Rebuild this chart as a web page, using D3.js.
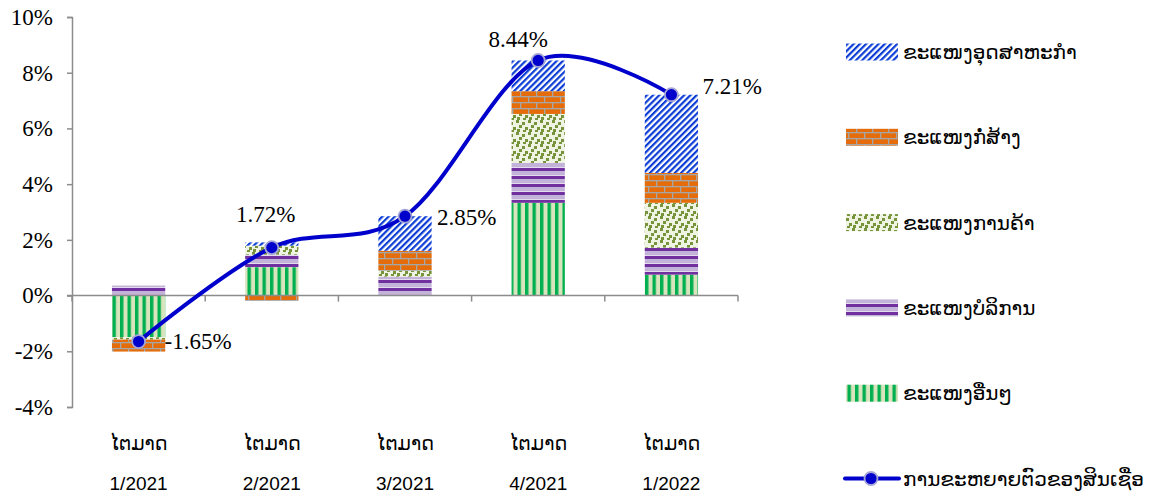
<!DOCTYPE html>
<html>
<head>
<meta charset="utf-8">
<script src="https://cdn.jsdelivr.net/npm/d3@7"></script>
<style>
  html, body { margin: 0; padding: 0; background: #fff; }
  svg { display: block; }
</style>
</head>
<body>
<svg id="chart" width="1155" height="495"></svg>
<script>
// ---------- DATA ----------
const periods = ["1/2021", "2/2021", "3/2021", "4/2021", "1/2022"];
const quarterWord = "ໄຕມາດ";
const seriesNames = ["ຂະແໜງອື່ນໆ", "ຂະແໜງບໍລິການ", "ຂະແໜງການຄ້າ", "ຂະແໜງກໍ່ສ້າງ", "ຂະແໜງອຸດສາຫະກຳ"];
const others       = [-1.50, 1.02, 0.00, 3.33, 0.75];
const services     = [ 0.36, 0.45, 0.68, 1.43, 0.97];
const trade        = [-0.08, 0.32, 0.21, 1.76, 1.61];
const construction = [-0.43, -0.19, 0.72, 0.82, 1.07];
const industry     = [ 0.00, 0.12, 1.24, 1.10, 2.81];
const creditGrowth = [-1.65, 1.72, 2.85, 8.44, 7.21];
const lineName = "ການຂະຫຍາຍຕົວຂອງສິນເຊື່ອ";
const yTicks = [-4, -2, 0, 2, 4, 6, 8, 10];

// ---------- LAYOUT ----------
const svg = d3.select("#chart");
const plot = { left: 72, right: 738, top: 17, bottom: 407 };
const axisColor = "#8c8c8c";
const SERIF = '"Liberation Serif"';
const LAO = '"DejaVu Sans"';
const SANS = '"Liberation Sans"';

const x = d3.scaleBand().domain(periods).range([plot.left, plot.right]).paddingInner(0.6).paddingOuter(0.3);
const y = d3.scaleLinear().domain([-4, 10]).range([plot.bottom, plot.top]);

// ---------- PATTERNS ----------
const defs = svg.append("defs");
const patIds = ["pOthers", "pServices", "pTrade", "pConstruction", "pIndustry"];

{
  const p = defs.append("pattern").attr("id", "pOthers").attr("patternUnits", "userSpaceOnUse")
    .attr("width", 7.5).attr("height", 10);
  p.append("rect").attr("width", 7.5).attr("height", 10).attr("fill", "#d8e4bc");
  p.append("rect").attr("x", 0).attr("width", 3.4).attr("height", 10).attr("fill", "#00b050");
}
{
  const p = defs.append("pattern").attr("id", "pServices").attr("patternUnits", "userSpaceOnUse")
    .attr("width", 10).attr("height", 8);
  p.append("rect").attr("width", 10).attr("height", 8).attr("fill", "#e4dcee");
  p.append("rect").attr("y", 3).attr("width", 10).attr("height", 4).attr("fill", "#c3b3d8");
  p.append("rect").attr("y", 0).attr("width", 10).attr("height", 3).attr("fill", "#7030a0");
}
{
  const p = defs.append("pattern").attr("id", "pTrade").attr("patternUnits", "userSpaceOnUse")
    .attr("width", 12).attr("height", 12);
  p.append("rect").attr("width", 12).attr("height", 12).attr("fill", "#eef3e2");
  [[0,0],[6,2],[3,5],[9,7],[1,9],[7,10]].forEach(([a,b]) =>
    p.append("rect").attr("x", a).attr("y", b).attr("width", 3).attr("height", 3).attr("fill", "#77933c"));
}
{
  const p = defs.append("pattern").attr("id", "pConstruction").attr("patternUnits", "userSpaceOnUse")
    .attr("width", 16).attr("height", 12);
  p.append("rect").attr("width", 16).attr("height", 12).attr("fill", "#e46c0a");
  p.append("rect").attr("y", 0).attr("width", 16).attr("height", 1.3).attr("fill", "#a6a6a6");
  p.append("rect").attr("y", 6).attr("width", 16).attr("height", 1.3).attr("fill", "#a6a6a6");
  p.append("rect").attr("x", 0).attr("y", 0).attr("width", 1.3).attr("height", 6).attr("fill", "#a6a6a6");
  p.append("rect").attr("x", 8).attr("y", 6).attr("width", 1.3).attr("height", 6).attr("fill", "#a6a6a6");
}
{
  const p = defs.append("pattern").attr("id", "pIndustry").attr("patternUnits", "userSpaceOnUse")
    .attr("width", 4.4).attr("height", 8).attr("patternTransform", "rotate(45)");
  p.append("rect").attr("width", 4.4).attr("height", 8).attr("fill", "#ffffff");
  p.append("rect").attr("x", 0).attr("width", 2.2).attr("height", 8).attr("fill", "#0b3dd6");
}

// ---------- BARS ----------
const table = periods.map((p, i) => ({
  period: p,
  others: others[i], services: services[i], trade: trade[i],
  construction: construction[i], industry: industry[i]
}));
const keys = ["others", "services", "trade", "construction", "industry"];
const stacked = d3.stack().keys(keys).offset(d3.stackOffsetDiverging)(table);

const barG = svg.append("g");
stacked.forEach((layer, li) => {
  barG.append("g").attr("fill", `url(#${patIds[li]})`)
    .selectAll("rect").data(layer).join("rect")
    .attr("x", d => x(d.data.period))
    .attr("width", x.bandwidth())
    .attr("y", d => y(Math.max(d[0], d[1])))
    .attr("height", d => Math.abs(y(d[0]) - y(d[1])));
});

// ---------- AXES ----------
const yAxis = d3.axisLeft(y).tickValues(yTicks).tickSize(5).tickPadding(14)
  .tickFormat(d => d + "%");
const gy = svg.append("g").attr("transform", `translate(${plot.left},0)`).call(yAxis);
gy.select(".domain").attr("stroke", axisColor).attr("stroke-width", 1.5);
gy.selectAll(".tick line").attr("stroke", axisColor).attr("stroke-width", 1.5);
gy.selectAll(".tick text").style("font-family", SERIF).style("font-size", "23px").attr("fill", "#000");

const gx = svg.append("g");
gx.append("line").attr("x1", plot.left - 5).attr("x2", plot.right)
  .attr("y1", y(0)).attr("y2", y(0)).attr("stroke", axisColor).attr("stroke-width", 1.5);
const bounds = d3.range(periods.length + 1).map(i => x.range()[0] + i * x.step());
gx.selectAll("line.tk").data(bounds).join("line").attr("class", "tk")
  .attr("x1", d => d).attr("x2", d => d)
  .attr("y1", y(0)).attr("y2", y(0) + 6)
  .attr("stroke", axisColor).attr("stroke-width", 1.5);

const catG = svg.append("g");
catG.selectAll("text.q").data(periods).join("text").attr("class", "q")
  .attr("x", d => x(d) + x.bandwidth() / 2).attr("y", 450)
  .attr("text-anchor", "middle").style("font-family", LAO).style("font-size", "19px")
  .text(quarterWord);
catG.selectAll("text.p").data(periods).join("text").attr("class", "p")
  .attr("x", d => x(d) + x.bandwidth() / 2).attr("y", 490)
  .attr("text-anchor", "middle").style("font-family", SANS).style("font-size", "19px")
  .text(d => d);

// ---------- LINE ----------
const pts = periods.map((p, i) => [x(p) + x.bandwidth() / 2, y(creditGrowth[i])]);
const line = d3.line().curve(d3.curveCardinal.tension(0));
svg.append("path").attr("d", line(pts)).attr("fill", "none")
  .attr("stroke", "#0000cc").attr("stroke-width", 4).attr("stroke-linecap", "round");
svg.append("g").selectAll("circle").data(pts).join("circle")
  .attr("cx", d => d[0]).attr("cy", d => d[1]).attr("r", 6.5)
  .attr("fill", "#0000cc").attr("stroke", "#a5a5d6").attr("stroke-width", 1.8);

const labelPlace = [
  { dx: 26, dy: 7, anchor: "start" },
  { dx: -6, dy: -26, anchor: "middle" },
  { dx: 32, dy: 9, anchor: "start" },
  { dx: -20, dy: -13, anchor: "middle" },
  { dx: 31, dy: -1, anchor: "start" }
];
svg.append("g").selectAll("text").data(pts).join("text")
  .attr("x", (d, i) => d[0] + labelPlace[i].dx)
  .attr("y", (d, i) => d[1] + labelPlace[i].dy)
  .attr("text-anchor", (d, i) => labelPlace[i].anchor)
  .style("font-family", SERIF).style("font-size", "23px").attr("fill", "#000")
  .text((d, i) => creditGrowth[i].toFixed(2) + "%");

// ---------- LEGEND ----------
const legend = svg.append("g");
const legendOrder = [4, 3, 2, 1, 0];
const rowY = d3.range(6).map(i => 52 + i * 85.3);
legendOrder.forEach((si, r) => {
  const cy = rowY[r];
  legend.append("rect").attr("x", 846).attr("y", cy - 8.5).attr("width", 52).attr("height", 17)
    .attr("fill", `url(#${patIds[si]})`);
  legend.append("text").attr("x", 903).attr("y", cy + 7)
    .style("font-family", LAO).style("font-size", "20px").attr("fill", "#000")
    .text(seriesNames[si]);
});
{
  const cy = rowY[5];
  legend.append("line").attr("x1", 845).attr("x2", 899).attr("y1", cy).attr("y2", cy)
    .attr("stroke", "#0000cc").attr("stroke-width", 4).attr("stroke-linecap", "round");
  legend.append("circle").attr("cx", 871).attr("cy", cy).attr("r", 6.5)
    .attr("fill", "#0000cc").attr("stroke", "#a5a5d6").attr("stroke-width", 1.8);
  legend.append("text").attr("x", 903).attr("y", cy + 7)
    .style("font-family", LAO).style("font-size", "20px").attr("fill", "#000")
    .text(lineName);
}
</script>
</body>
</html>
